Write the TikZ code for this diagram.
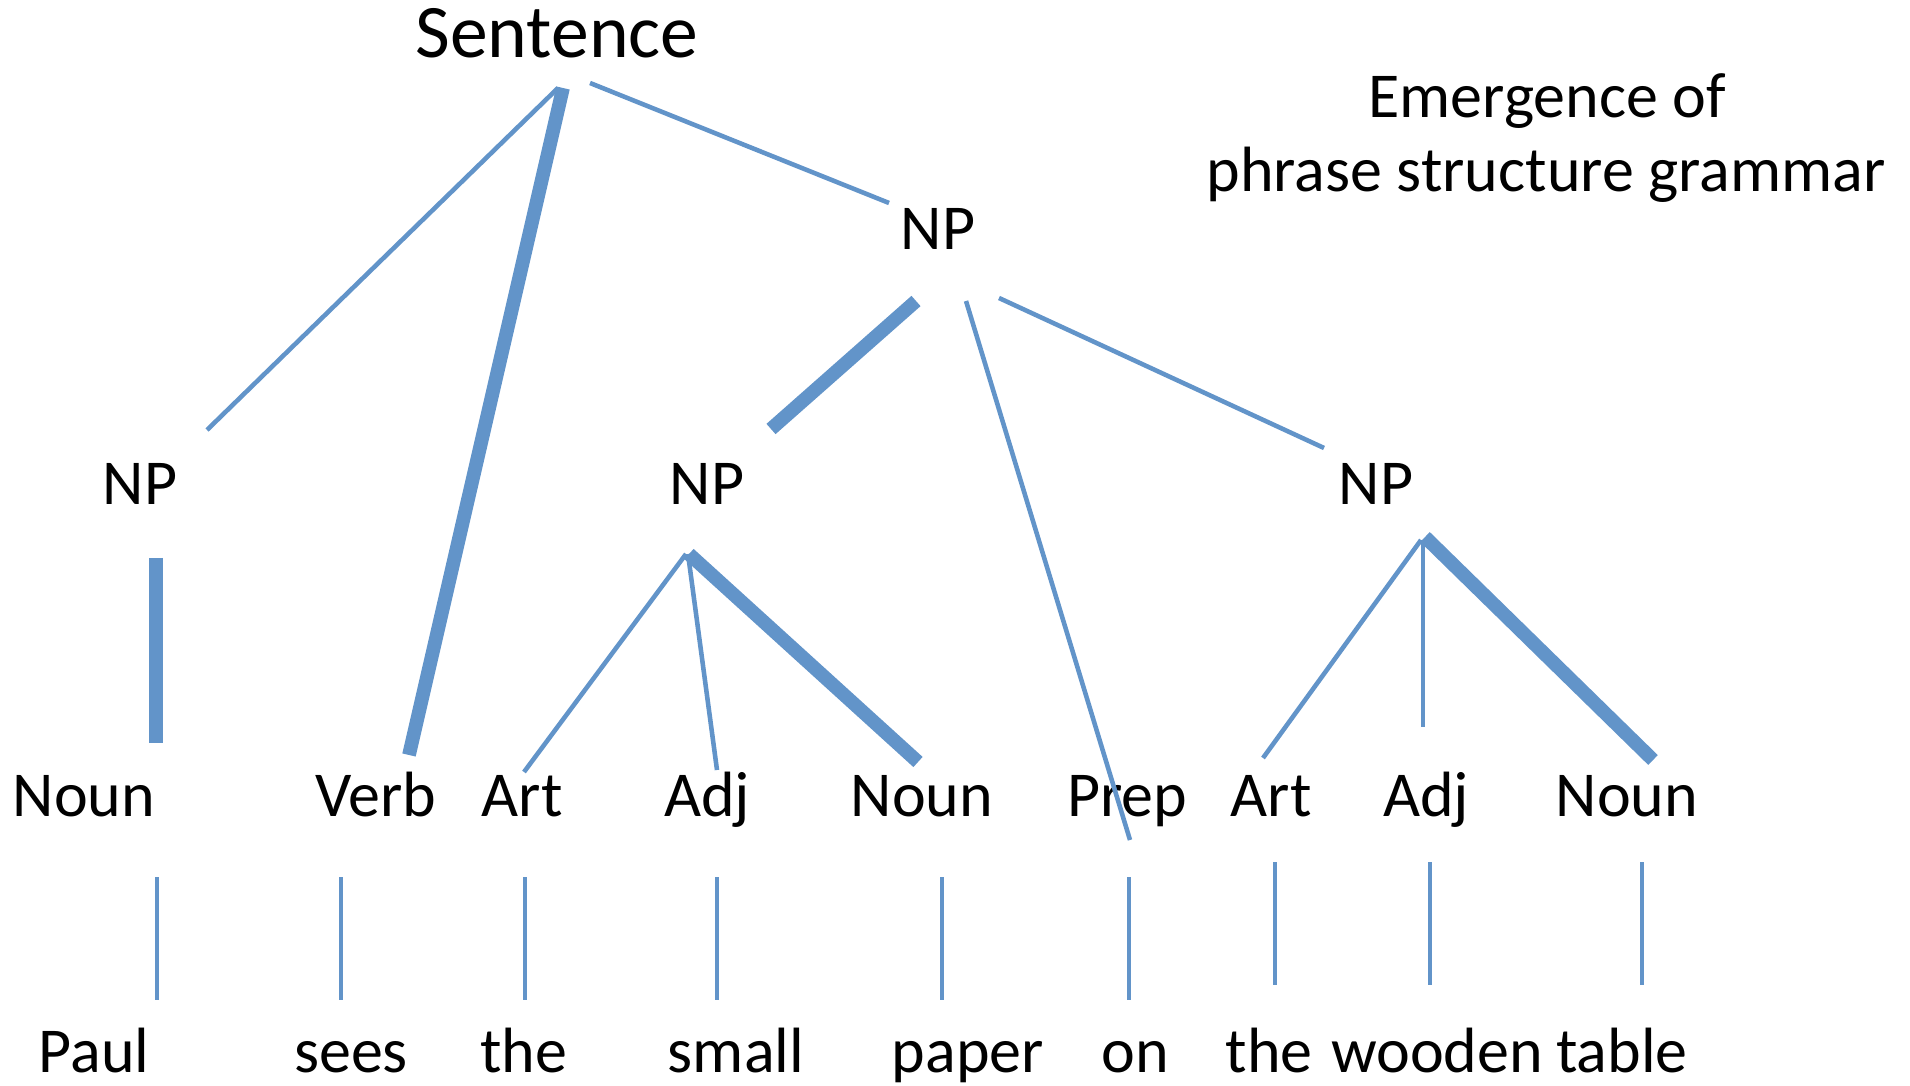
\documentclass[tikz,border=0pt]{standalone}
\usepackage{fontspec}
\setmainfont{Carlito}
\definecolor{edgeblue}{RGB}{98,148,201}
\tikzset{
  lbl/.style={anchor=base, inner sep=0pt, font=\fontsize{18.2pt}{21pt}\selectfont},
  bigl/.style={anchor=base, inner sep=0pt, font=\fontsize{21.5pt}{24pt}\selectfont},
  thinedge/.style={draw=edgeblue, line width=1.3pt},
  thickedge/.style={draw=edgeblue, line width=3.9pt}
}
\begin{document}
\begin{tikzpicture}[x=0.01cm,y=-0.01cm]
\useasboundingbox (0,0) rectangle (1910,1086);
% labels
\node[bigl] (sent) at (557,58) {Sentence};
\node[lbl] (title1) at (1547,118) {Emergence of};
\node[lbl] (title2) at (1546,192) {phrase structure grammar};
\node[lbl] (npt) at (938,250) {NP};
\node[lbl] (npl) at (140,505) {NP};
\node[lbl] (npm) at (707,505) {NP};
\node[lbl] (npr) at (1376,505) {NP};
\node[lbl] (noun1) at (84,816) {Noun};
\node[lbl] (verb) at (376,816) {Verb};
\node[lbl] (art1) at (522,816) {Art};
\node[lbl] (adj1) at (707,816) {Adj};
\node[lbl] (noun2) at (922,816) {Noun};
\node[lbl] (prep) at (1127,816) {Prep};
\node[lbl] (art2) at (1271,816) {Art};
\node[lbl] (adj2) at (1426,816) {Adj};
\node[lbl] (noun3) at (1627,816) {Noun};
\node[lbl] (w1) at (94,1072) {Paul};
\node[lbl] (w2) at (351,1072) {sees};
\node[lbl] (w3) at (524,1072) {the};
\node[lbl] (w4) at (736,1072) {small};
\node[lbl] (w5) at (968,1072) {paper};
\node[lbl] (w6) at (1135,1072) {on};
\node[lbl] (w7) at (1269,1072) {the};
\node[lbl] (w8) at (1437,1072) {wooden};
\node[lbl] (w9) at (1622,1072) {table};
% connector end points
\coordinate (sA) at (558,88);  \coordinate (npl-t) at (207,430);
\coordinate (sB) at (563,88);  \coordinate (verb-t) at (409,755);
\coordinate (sC) at (590,83);  \coordinate (npt-t) at (889,203);
\coordinate (ntA) at (916,301); \coordinate (npm-t) at (771,429);
\coordinate (ntB) at (966,301); \coordinate (prep-t) at (1130,840);
\coordinate (ntC) at (999,298); \coordinate (npr-t) at (1324,448);
\coordinate (nlA) at (156,558); \coordinate (noun1-t) at (156,743);
\coordinate (nmA) at (686,554); \coordinate (art1-t) at (524,772);
\coordinate (nmB) at (688,554); \coordinate (adj1-t) at (717,770);
\coordinate (nmC) at (689,554); \coordinate (noun2-t) at (918,762);
\coordinate (nrA) at (1421,540); \coordinate (art2-t) at (1263,758);
\coordinate (nrB) at (1423,540); \coordinate (adj2-t) at (1423,727);
\coordinate (nrC) at (1425,537); \coordinate (noun3-t) at (1653,760);
% tree edges
\draw[thinedge] (sA) -- (npl-t);
\draw[thickedge] (sB) -- (verb-t);
\draw[thinedge] (sC) -- (npt-t);
\draw[thickedge] (ntA) -- (npm-t);
\draw[thinedge] (ntB) -- (prep-t);
\draw[thinedge] (ntC) -- (npr-t);
\draw[thickedge] (nlA) -- (noun1-t);
\draw[thinedge] (nmA) -- (art1-t);
\draw[thinedge] (nmB) -- (adj1-t);
\draw[thickedge] (nmC) -- (noun2-t);
\draw[thinedge] (nrA) -- (art2-t);
\draw[thinedge] (nrB) -- (adj2-t);
\draw[thickedge] (nrC) -- (noun3-t);
% word links
\coordinate (c1a) at (157,877); \coordinate (c1b) at (157,1000);
\coordinate (c2a) at (341,877); \coordinate (c2b) at (341,1000);
\coordinate (c3a) at (525,877); \coordinate (c3b) at (525,1000);
\coordinate (c4a) at (717,877); \coordinate (c4b) at (717,1000);
\coordinate (c5a) at (942,877); \coordinate (c5b) at (942,1000);
\coordinate (c6a) at (1129,877); \coordinate (c6b) at (1129,1000);
\coordinate (c7a) at (1275,862); \coordinate (c7b) at (1275,985);
\coordinate (c8a) at (1430,862); \coordinate (c8b) at (1430,985);
\coordinate (c9a) at (1642,862); \coordinate (c9b) at (1642,985);
\foreach \i in {1,...,9} { \draw[thinedge] (c\i a) -- (c\i b); }
\end{tikzpicture}
\end{document}
